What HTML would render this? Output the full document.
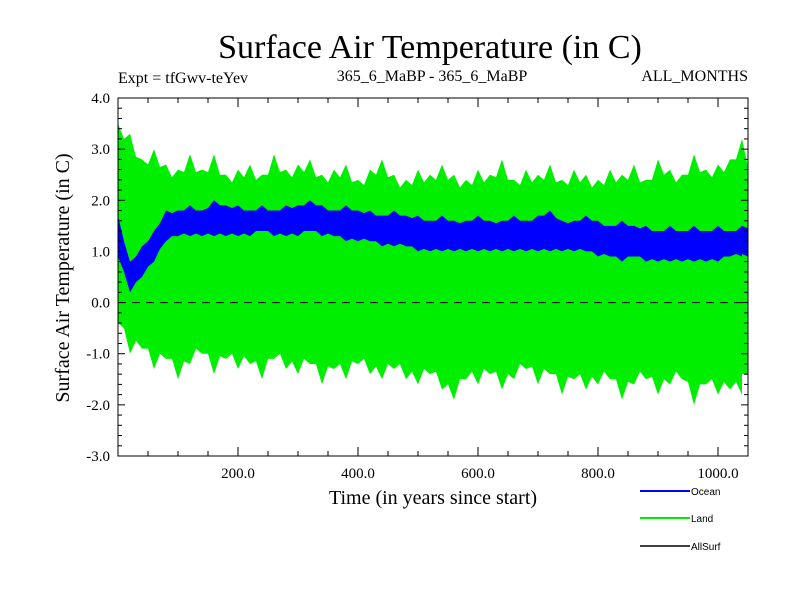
<!DOCTYPE html>
<html><head><meta charset="utf-8"><style>
body{margin:0;background:#fff;}
svg text{font-family:"Liberation Serif",serif;}
</style></head><body>
<svg id="chart" width="800" height="600" xmlns="http://www.w3.org/2000/svg">
<text x="430" y="58" font-size="34" text-anchor="middle">Surface Air Temperature (in C)</text>
<text x="118" y="83" font-size="16">Expt = tfGwv-teYev</text>
<text x="432" y="81" font-size="16" text-anchor="middle">365_6_MaBP - 365_6_MaBP</text>
<text x="748" y="81" font-size="16" text-anchor="end">ALL_MONTHS</text>
<text transform="translate(69,278) rotate(-90)" font-size="20" text-anchor="middle">Surface Air Temperature (in C)</text>
<text x="433" y="504" font-size="20" text-anchor="middle">Time (in years since start)</text>
<g id="marks"></g>
<g id="axes"></g>
<g>
<line x1="640" y1="491" x2="690" y2="491" stroke="#0000ff" stroke-width="2"/>
<text x="691" y="495" font-size="10" style="font-family:'Liberation Sans',sans-serif">Ocean</text>
<line x1="640" y1="518" x2="690" y2="518" stroke="#00ee00" stroke-width="2"/>
<text x="691" y="522" font-size="10" style="font-family:'Liberation Sans',sans-serif">Land</text>
<line x1="640" y1="546" x2="690" y2="546" stroke="#000" stroke-width="1.5"/>
<text x="691" y="550" font-size="10" style="font-family:'Liberation Sans',sans-serif">AllSurf</text>
</g>
</svg>
<script>
const years = [0,20,40,60,80,100,120,140,160,180,200,220,240,260,280,300,320,340,360,380,400,420,440,460,480,500,520,540,560,580,600,620,640,660,680,700,720,740,760,780,800,820,840,860,880,900,920,940,960,980,1000,1020,1040,1050];
const landHigh = [3.5,3.3,2.8,3.0,2.7,2.6,2.9,2.6,2.9,2.5,2.6,2.7,2.5,2.9,2.6,2.7,2.8,2.5,2.6,2.7,2.4,2.6,2.8,2.5,2.4,2.6,2.5,2.7,2.5,2.4,2.6,2.5,2.8,2.4,2.6,2.5,2.7,2.4,2.6,2.5,2.4,2.6,2.5,2.7,2.4,2.8,2.6,2.5,2.9,2.6,2.7,2.8,3.2,2.5];
const landLow = [-0.4,-1.0,-0.9,-1.3,-1.1,-1.5,-1.2,-1.0,-1.4,-1.1,-1.3,-1.2,-1.5,-1.1,-1.3,-1.4,-1.2,-1.6,-1.3,-1.5,-1.2,-1.4,-1.5,-1.3,-1.5,-1.6,-1.4,-1.7,-1.9,-1.5,-1.6,-1.4,-1.7,-1.5,-1.3,-1.6,-1.4,-1.8,-1.5,-1.7,-1.6,-1.5,-1.9,-1.6,-1.5,-1.8,-1.6,-1.5,-2.0,-1.6,-1.8,-1.7,-1.8,-1.4];
const oceanHigh = [1.7,0.8,1.1,1.4,1.8,1.8,1.9,1.8,2.0,1.9,1.9,1.8,1.9,1.8,1.9,1.9,2.0,1.9,1.8,1.9,1.8,1.8,1.7,1.8,1.7,1.7,1.6,1.7,1.6,1.6,1.7,1.6,1.6,1.7,1.6,1.7,1.8,1.6,1.6,1.7,1.6,1.5,1.6,1.5,1.5,1.4,1.5,1.4,1.5,1.4,1.5,1.4,1.5,1.5];
const oceanLow = [0.9,0.2,0.5,0.8,1.2,1.3,1.3,1.3,1.3,1.3,1.3,1.3,1.4,1.3,1.3,1.3,1.4,1.3,1.3,1.2,1.2,1.2,1.1,1.1,1.1,1.0,1.0,1.0,1.0,1.0,1.0,1.0,1.0,1.0,1.0,1.0,1.0,1.0,1.0,1.0,0.9,0.9,0.8,0.9,0.8,0.8,0.8,0.8,0.8,0.8,0.8,0.9,0.9,0.9];
const yTicks = [4,3,2,1,0,-1,-2,-3];
const xTicks = [200,400,600,800,1000];

const X0=118,X1=748,Y0=98,Y1=456;
const xs = v => X0 + v/1050*(X1-X0);
const ys = v => Y0 + (4-v)/7*(Y1-Y0);
const NS="http://www.w3.org/2000/svg";
const marks=document.getElementById('marks'), axes=document.getElementById('axes');
function mk(tag,attrs,parent){const e=document.createElementNS(NS,tag);for(const k in attrs)e.setAttribute(k,attrs[k]);parent.appendChild(e);return e;}
function band(hi,lo,color,dip){
  let pts=[];
  for(let i=0;i<years.length;i++){pts.push(xs(years[i])+','+ys(hi[i]));if(i<years.length-1)pts.push(xs(years[i]+10)+','+ys((hi[i]+hi[i+1])/2-dip));}
  for(let i=years.length-1;i>=0;i--){pts.push(xs(years[i])+','+ys(lo[i]));if(i>0)pts.push(xs(years[i]-10)+','+ys((lo[i]+lo[i-1])/2+dip));}
  return mk('polygon',{points:pts.join(' '),fill:color},marks);
}
const land=band(landHigh,landLow,'#00ee00',0.2);


const ocean=band(oceanHigh,oceanLow,'#0000ff',0.05);


const zl=mk('line',{x1:X0,x2:X1,y1:ys(0),y2:ys(0),stroke:'#000','stroke-dasharray':'8,6','stroke-width':1},marks);


const fr=mk('rect',{x:X0,y:Y0,width:X1-X0,height:Y1-Y0,fill:'none',stroke:'#000','stroke-width':1},axes);


for(let v=-3;v<=4.001;v+=0.2){const y=ys(v);const major=Math.abs(v-Math.round(v))<0.01;const L=major?7:4;
  mk('line',{x1:X0,x2:X0+L,y1:y,y2:y,stroke:'#000'},axes);mk('line',{x1:X1,x2:X1-L,y1:y,y2:y,stroke:'#000'},axes);}
yTicks.forEach(v=>{const t=mk('text',{x:X0-8,y:ys(v)+5,'font-size':15,'text-anchor':'end'},axes);t.textContent=v.toFixed(1);
  
  });
for(let v=50;v<1050;v+=50){const x=xs(v);const L=v%200==0?9:5;
  mk('line',{x1:x,x2:x,y1:Y1,y2:Y1-L,stroke:'#000'},axes);mk('line',{x1:x,x2:x,y1:Y0,y2:Y0+L,stroke:'#000'},axes);}
xTicks.forEach(v=>{const t=mk('text',{x:xs(v),y:Y1+22,'font-size':15,'text-anchor':'middle'},axes);t.textContent=v.toFixed(1);
  
  });
</script>
</body></html>
